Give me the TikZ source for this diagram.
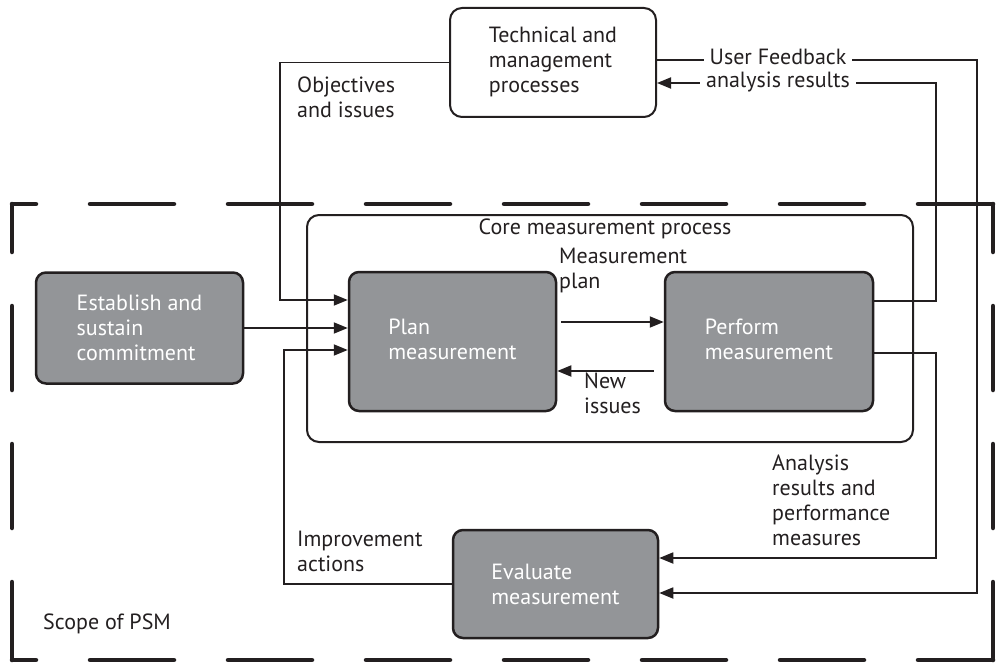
\documentclass[tikz,border=0pt]{standalone}
\usepackage{fontspec}
\setmainfont{PT Sans}
\usetikzlibrary{arrows.meta}
\definecolor{boxgray}{RGB}{147,149,152}
\definecolor{txtgray}{RGB}{35,31,32}
\newcommand\dfont{\fontsize{22}{25}\selectfont}
\newcommand\uplines[2]{\raisebox{#1}{\begin{tabular}{@{}l@{}}#2\end{tabular}}}
\begin{document}
\begin{tikzpicture}[x=1pt,y=-1pt,
  conn/.style={line width=1.8pt, draw=txtgray},
  arr/.style={conn,-{Triangle[length=14pt,width=11pt]}},
  graybox/.style={draw=txtgray, line width=2.5pt, fill=boxgray, rounded corners=10pt,
    text=white, align=left, font=\dfont, inner sep=0pt},
  whitebox/.style={draw=txtgray, line width=2pt, fill=white, rounded corners=12pt,
    align=left, font=\dfont, inner sep=0pt, text=txtgray},
  lbl/.style={font=\dfont, align=left, inner sep=1pt, text=txtgray},
  gaplbl/.style={font=\dfont, fill=white, inner xsep=6pt, inner ysep=1pt, text=txtgray},
  psmline/.style={line width=4.5pt, line cap=round, draw=txtgray}
]
\useasboundingbox (0,0) rectangle (998,666);

% PSM scope frame
\draw[psmline, dash pattern=on 84pt off 54pt, dash phase=60pt] (12,204) -- (993,204);
\draw[psmline, dash pattern=on 84pt off 54pt, dash phase=60pt] (12,660) -- (993,660);
\draw[psmline, dash pattern=on 84pt off 54pt, dash phase=36pt] (12,204) -- (12,660);
\draw[psmline, dash pattern=on 84pt off 54pt, dash phase=36pt] (993,204) -- (993,660);

% core process box
\node[whitebox, minimum width=606pt, minimum height=227pt] (core) at (610,328.5) {};
\node[lbl] (coretitle) at (605,229) {Core measurement process};

% boxes
\node[whitebox, minimum width=206pt, minimum height=109pt] (tech) at (553,62.5)
  {\uplines{1pt}{Technical and\\management\\processes}};
\node[graybox, minimum width=207pt, minimum height=111pt] (establish) at (139.5,328)
  {Establish and\\sustain\\commitment};
\node[graybox, minimum width=207pt, minimum height=139pt] (plan) at (452.5,341.5)
  {\uplines{12pt}{Plan\\measurement}};
\node[graybox, minimum width=208pt, minimum height=139pt] (perform) at (769,341.5)
  {\uplines{10pt}{Perform\\measurement}};
\node[graybox, minimum width=205pt, minimum height=108pt] (evaluate) at (555.5,584)
  {Evaluate\\measurement};

% connectors
\draw[arr] (tech.west) -- ++(-169,0) |- ([yshift=41.5pt]plan.west);
\draw[arr] (establish.east) -- (establish.east -| plan.west);
\draw[arr] (evaluate.west) -- ++(-168,0) |- ([yshift=-8.5pt]plan.west);
\draw[arr] ([yshift=19.5pt,xshift=4pt]plan.east) -- ([yshift=19.5pt]perform.west);
\draw[arr] ([yshift=-29.5pt,xshift=-10pt]perform.west) -- ([yshift=-29.5pt]plan.east);
\draw[arr] ([yshift=40.5pt]perform.east) -- ++(62,0) |- ([yshift=-20.5pt]tech.east);
\draw[arr] ([yshift=2.5pt]tech.east) -- ++(320,0) |- ([yshift=-9pt]evaluate.east);
\draw[arr] ([yshift=-11.5pt]perform.east) -- ++(62,0) |- ([yshift=26pt]evaluate.east);

% labels
\node[gaplbl] (uf) at (778,57) {User Feedback};
\node[gaplbl] (ar) at (778,82) {analysis results};
\node[lbl, anchor=west] (obj) at (296,97) {Objectives\\and issues};
\node[lbl, anchor=west] (mp) at (558,270) {Measurement\\plan};
\node[lbl, anchor=west] (ni) at (583,393) {New\\issues};
\node[lbl, anchor=west] (an) at (771,500) {Analysis\\results and\\performance\\measures};
\node[lbl, anchor=west] (imp) at (296,551) {Improvement\\actions};
\node[lbl, anchor=west] (psm) at (42,624) {Scope of PSM};
\end{tikzpicture}
\end{document}
